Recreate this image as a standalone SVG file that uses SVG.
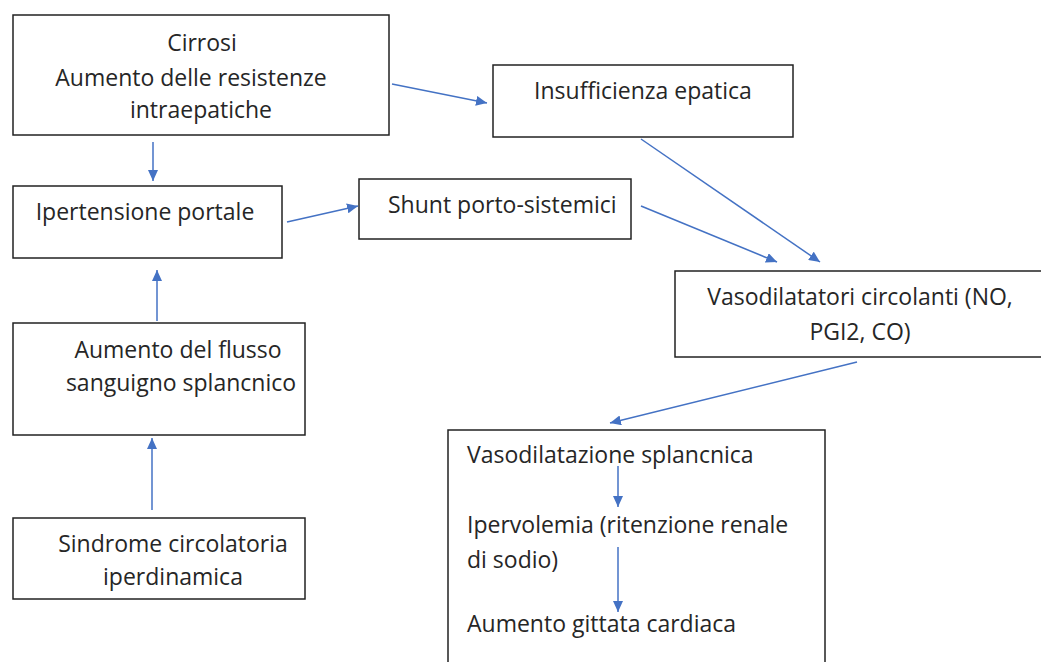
<svg xmlns="http://www.w3.org/2000/svg" width="1041" height="662" viewBox="0 0 1041 662">
<style>
.box{fill:#fff;stroke:#222;stroke-width:1.5}
.t{font-family:"Open Sans","Liberation Sans",sans-serif;font-size:23px;fill:#262626}
.m{text-anchor:middle}
.c{fill:none;stroke:#4472C4;stroke-width:1.5;marker-end:url(#ah)}
</style>
<defs>
<marker id="ah" markerUnits="userSpaceOnUse" markerWidth="12" markerHeight="10" refX="11" refY="5" orient="auto">
<path d="M0,0 L11,5 L0,10 z" fill="#4472C4"/>
</marker>
</defs>
<rect width="1041" height="662" fill="#fff"/>
<g id="n-cirrosi">
<rect class="box" x="13" y="15" width="376" height="120"/>
<text class="t m" x="202" y="51">Cirrosi</text>
<text class="t m" x="191" y="86">Aumento delle resistenze</text>
<text class="t m" x="201" y="118">intraepatiche</text>
</g>
<g id="n-insufficienza">
<rect class="box" x="493" y="65" width="300" height="72"/>
<text class="t m" x="643" y="99">Insufficienza epatica</text>
</g>
<g id="n-ipertensione">
<rect class="box" x="13" y="186" width="269" height="72"/>
<text class="t m" x="145" y="220">Ipertensione portale</text>
</g>
<g id="n-shunt">
<rect class="box" x="359" y="179" width="272" height="60"/>
<text class="t" x="388" y="213">Shunt porto-sistemici</text>
</g>
<g id="n-vasodilatatori">
<rect class="box" x="675" y="271" width="372" height="86"/>
<text class="t m" x="860" y="305">Vasodilatatori circolanti (NO,</text>
<text class="t m" x="860" y="340">PGI2, CO)</text>
</g>
<g id="n-flusso">
<rect class="box" x="13" y="323" width="292" height="112"/>
<text class="t m" x="178" y="358">Aumento del flusso</text>
<text class="t m" x="181" y="391">sanguigno splancnico</text>
</g>
<g id="n-sindrome">
<rect class="box" x="13" y="518" width="292" height="81"/>
<text class="t m" x="173" y="552">Sindrome circolatoria</text>
<text class="t m" x="173" y="585">iperdinamica</text>
</g>
<g id="n-vasodilatazione">
<rect class="box" x="448" y="430" width="377" height="240"/>
<text class="t" x="467" y="463">Vasodilatazione splancnica</text>
<text class="t" x="467" y="533">Ipervolemia (ritenzione renale</text>
<text class="t" x="467" y="568">di sodio)</text>
<text class="t" x="467" y="632">Aumento gittata cardiaca</text>
</g>
<g id="connectors">
<line class="c" x1="392" y1="84" x2="487" y2="103"/>
<line class="c" x1="153" y1="142" x2="153" y2="181"/>
<line class="c" x1="287" y1="222" x2="358" y2="206"/>
<line class="c" x1="641" y1="139" x2="820" y2="262"/>
<line class="c" x1="641" y1="206" x2="777" y2="262"/>
<line class="c" x1="857" y1="362" x2="610" y2="423"/>
<line class="c" x1="618" y1="466" x2="618" y2="507"/>
<line class="c" x1="618" y1="547" x2="618" y2="612"/>
<line class="c" x1="157" y1="321" x2="157" y2="270"/>
<line class="c" x1="152" y1="510" x2="152" y2="438"/>
</g>
</svg>
